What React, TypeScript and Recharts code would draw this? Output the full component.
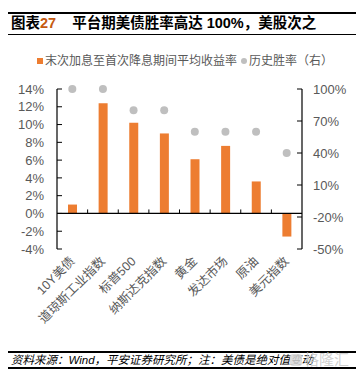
import React from "react";
import {
  ComposedChart,
  Bar,
  Line,
  XAxis,
  YAxis,
  ReferenceLine,
} from "recharts";

// 数据
const categories = ["10Y美债", "道琼斯工业指数", "标普500", "纳斯达克指数", "黄金", "发达市场", "原油", "美元指数"];
const avgReturn = [1.0, 12.4, 10.2, 9.0, 6.1, 7.6, 3.6, -2.6]; // 末次加息至首次降息期间平均收益率 (%)
const winRate = [100, 100, 80, 80, 60, 60, 60, 40]; // 历史胜率 (%)，右轴
const leftTicks = [-4, -2, 0, 2, 4, 6, 8, 10, 12, 14];
const rightTicks = [-50, -20, 10, 40, 70, 100];

const data = categories.map((name, i) => ({ name, ret: avgReturn[i], win: winRate[i] }));

const ORANGE = "#ED7D31";
const GRAY_DOT = "#BFBFBF";
const TEXT = "#595959";
const CJK = "'Liberation Sans', Arial, 'Noto Sans CJK SC', sans-serif";

// x 轴标签，斜 45 度
const SlantTick = (props: any) => {
  const { x, y, payload } = props;
  const ax = x + 3;
  const ay = y + 13;
  return (
    <text
      x={ax}
      y={ay}
      textAnchor="end"
      fontSize={12.5}
      fill={TEXT}
      fontFamily={CJK}
      transform={`rotate(-45, ${ax}, ${ay})`}
    >
      {payload.value}
    </text>
  );
};

// 零轴 + 类别分隔刻度
const ZeroAxis = (props: any) => {
  const { x1, y1, x2 } = props;
  const n = categories.length;
  const marks = [];
  for (let i = 1; i < n; i++) {
    const tx = x1 + ((x2 - x1) * i) / n;
    marks.push(<line key={i} x1={tx} x2={tx} y1={y1 - 4} y2={y1} stroke="#000" strokeWidth={1} />);
  }
  return (
    <g>
      <line x1={x1} x2={x2} y1={y1} y2={y1} stroke="#000" strokeWidth={1.2} />
      {marks}
    </g>
  );
};

export default function App() {
  return (
    <div style={{ position: "relative", width: 348, height: 362, fontFamily: CJK }}>
      {/* 标题 */}
      <div style={{ position: "absolute", left: 0, top: 4, width: 348, height: 2, background: "#000" }} />
      <div
        style={{
          position: "absolute",
          left: 3,
          top: 3,
          height: 24,
          lineHeight: "24px",
          fontSize: 14.5,
          fontWeight: "bold",
          color: "#000",
          whiteSpace: "nowrap",
        }}
      >
        图表<span style={{ color: "#C55A11" }}>27</span>
        <span style={{ marginLeft: 16 }}>平台期美债胜率高达 100%，美股次之</span>
      </div>
      <div style={{ position: "absolute", left: 0, top: 25.5, width: 348, height: 1.5, background: "#000" }} />

      {/* 图例 */}
      <div
        style={{
          position: "absolute",
          left: 29,
          top: 44,
          height: 18,
          lineHeight: "18px",
          fontSize: 12,
          color: TEXT,
          whiteSpace: "nowrap",
          display: "flex",
          alignItems: "center",
        }}
      >
        <span style={{ display: "inline-block", width: 6, height: 6, background: ORANGE, marginRight: 2 }} />
        <span>末次加息至首次降息期间平均收益率</span>
        <span
          style={{
            display: "inline-block",
            width: 6,
            height: 6,
            borderRadius: 3,
            background: GRAY_DOT,
            marginLeft: 4,
            marginRight: 2,
          }}
        />
        <span>历史胜率（右）</span>
      </div>

      {/* 图表 */}
      <div style={{ position: "absolute", left: 0, top: 40 }}>
        <ComposedChart width={348} height={300} data={data} margin={{ top: 41, right: 0, left: 0, bottom: 0 }}>
          <XAxis
            dataKey="name"
            xAxisId={0}
            axisLine={false}
            tickLine={false}
            tickSize={0}
            tickMargin={0}
            interval={0}
            height={99}
            tick={<SlantTick />}
          />
          <YAxis
            yAxisId="left"
            orientation="left"
            domain={[-4, 14]}
            ticks={leftTicks}
            interval={0}
            width={49}
            tickFormatter={(v: number) => `${v}%`}
            axisLine={{ stroke: "#000", strokeWidth: 1.2 }}
            tickLine={{ stroke: "#000" }}
            tickSize={-5}
            tickMargin={18}
            tick={{ fill: TEXT, fontSize: 13, fontFamily: CJK }}
          />
          <YAxis
            yAxisId="right"
            orientation="right"
            domain={[-50, 100]}
            ticks={rightTicks}
            interval={0}
            width={54}
            tickFormatter={(v: number) => `${v}%`}
            axisLine={{ stroke: "#000", strokeWidth: 1.2 }}
            tickLine={{ stroke: "#000" }}
            tickSize={-5}
            tickMargin={16}
            tick={{ fill: TEXT, fontSize: 13, fontFamily: CJK, textAnchor: "start" }}
          />
          <ReferenceLine yAxisId="left" y={0} shape={<ZeroAxis />} />
          <Bar yAxisId="left" dataKey="ret" fill={ORANGE} barSize={9} isAnimationActive={false} />
          <Line
            yAxisId="right"
            dataKey="win"
            stroke="none"
            dot={{ r: 4, fill: GRAY_DOT, stroke: "none", clipDot: false }}
            activeDot={false}
            isAnimationActive={false}
          />
        </ComposedChart>
      </div>

      {/* 资料来源 */}
      <div style={{ position: "absolute", left: 0, top: 343, width: 348, height: 2, background: "#000" }} />
      <div
        style={{
          position: "absolute",
          left: 3,
          top: 344,
          height: 16,
          lineHeight: "16px",
          fontSize: 11.5,
          fontStyle: "italic",
          color: "#000",
          whiteSpace: "nowrap",
        }}
      >
        资料来源：Wind，平安证券研究所；注：美债是绝对值变动
      </div>
      <div style={{ position: "absolute", left: 0, top: 359, width: 348, height: 2, background: "#000" }} />
      {/* 水印 */}
      <div
        style={{
          position: "absolute",
          left: 282,
          top: 343,
          height: 18,
          lineHeight: "18px",
          fontSize: 15,
          color: "rgba(200,200,200,0.85)",
          whiteSpace: "nowrap",
          display: "flex",
          alignItems: "center",
        }}
      >
        <span
          style={{
            display: "inline-block",
            width: 12,
            height: 12,
            borderRadius: 3,
            background: "rgba(215,215,215,0.85)",
            marginRight: 2,
          }}
        />
        格隆汇
      </div>
    </div>
  );
}
